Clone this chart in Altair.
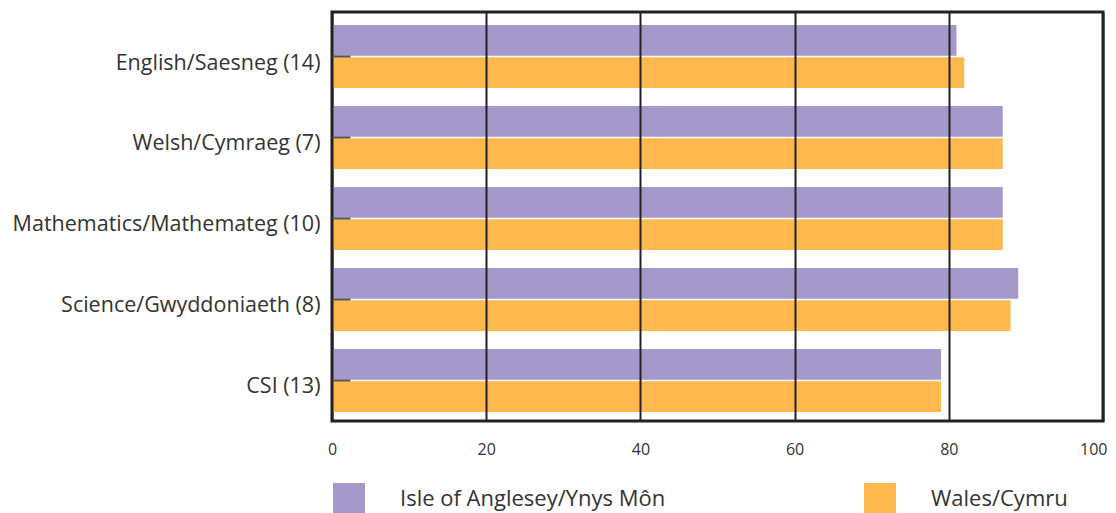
import altair as alt
import pandas as pd

subjects = [
    "English/Saesneg (14)",
    "Welsh/Cymraeg (7)",
    "Mathematics/Mathemateg (10)",
    "Science/Gwyddoniaeth (8)",
    "CSI (13)",
]
anglesey = [81, 87, 87, 89, 79]
wales = [82, 87, 87, 88, 79]
series = ["Isle of Anglesey/Ynys Môn", "Wales/Cymru"]
colors = ["#A599CB", "#FDB94D"]
x_ticks = [0, 20, 40, 60, 80, 100]

rows = []
for s, a, w in zip(subjects, anglesey, wales):
    rows.append({"subject": s, "series": series[0], "value": a})
    rows.append({"subject": s, "series": series[1], "value": w})
df = pd.DataFrame(rows)

font = "Open Sans"

chart = (
    alt.Chart(df)
    .mark_bar()
    .encode(
        x=alt.X(
            "value:Q",
            title=None,
            scale=alt.Scale(domain=[0, 100]),
            axis=alt.Axis(
                values=x_ticks,
                ticks=False,
                domain=False,
                grid=True,
                gridColor="#222",
                gridWidth=2,
                labelPadding=20,
                labelFontSize=16,
                labelColor="#333",
                labelFont=font,
                labelFlush=False,
                labelAlign={"condition": {"test": "datum.value >= 100", "value": "right"}, "value": "center"},
                labelOffset={"condition": {"test": "datum.value >= 100", "value": 4}, "value": 0},
                zindex=1,
            ),
        ),
        y=alt.Y(
            "subject:N",
            title=None,
            sort=subjects,
            scale=alt.Scale(paddingInner=0.222, paddingOuter=0.136, align=0.59),
            axis=alt.Axis(
                offset=-18,
                tickSize=18,
                tickColor="#555",
                tickWidth=2,
                domain=False,
                grid=False,
                labelPadding=12,
                labelOffset=7,
                labelFontSize=21.5,
                labelColor="#333",
                labelFont=font,
                labelLimit=400,
                zindex=1,
            ),
        ),
        yOffset=alt.YOffset("series:N", sort=series, scale=alt.Scale(paddingInner=0.05)),
        color=alt.Color(
            "series:N",
            title=None,
            sort=series,
            scale=alt.Scale(domain=series, range=colors),
            legend=alt.Legend(
                orient="none",
                direction="horizontal",
                legendX=1,
                legendY=471,
                symbolType="square",
                symbolSize=1024,
                symbolStrokeWidth=0,
                symbolOpacity=1,
                labelFontSize=22,
                labelFont=font,
                labelColor="#333",
                labelOffset=35,
                columnPadding=198,
                padding=0,
                labelLimit=400,
            ),
        ),
    )
    .properties(
        width=771,
        height=409,
        autosize=alt.AutoSizeParams(type="none"),
        padding={"left": 324, "top": 4, "right": 5, "bottom": 92},
    )
    .configure_view(stroke="#222", strokeWidth=3)
)

chart.save("out.html", embed_options={"renderer": "svg", "actions": False})
